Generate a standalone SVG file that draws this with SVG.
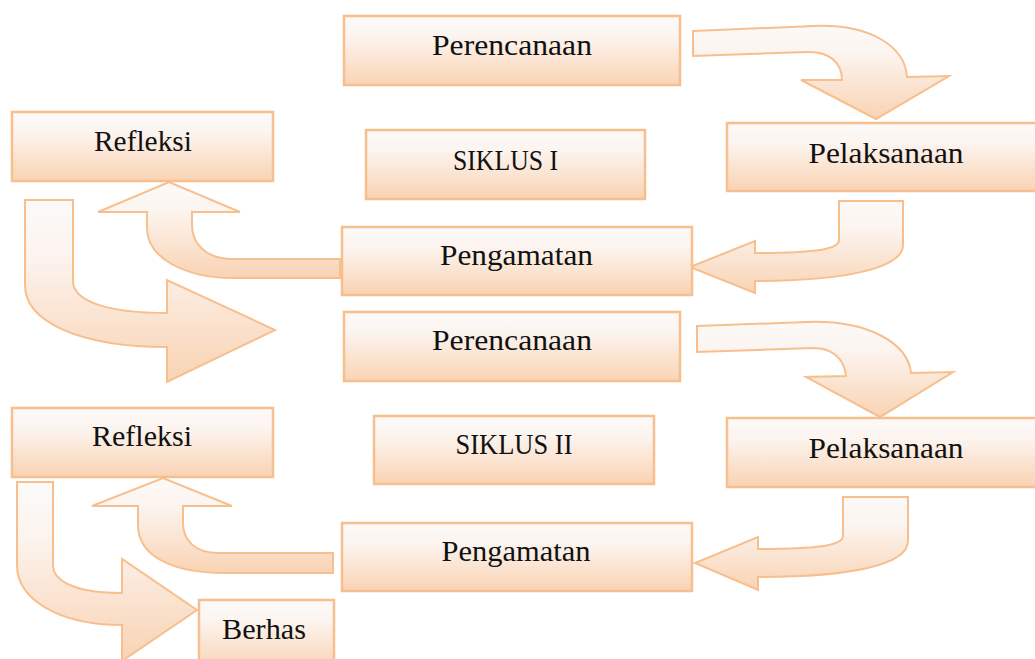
<svg xmlns="http://www.w3.org/2000/svg" width="1035" height="659" viewBox="0 0 1035 659">
<defs>
<linearGradient id="g" x1="0" y1="0" x2="0" y2="1">
<stop offset="0" stop-color="#fbfaf9"/>
<stop offset="0.3" stop-color="#fcf4ef"/>
<stop offset="1" stop-color="#f9d3b3"/>
</linearGradient>
</defs>
<style>
.box{fill:url(#g);stroke:#f8bf8e;stroke-width:2.5}
.arr{fill:url(#g);stroke:#f8bf8e;stroke-width:2;stroke-linejoin:miter}
.t{font-family:"Liberation Serif","DejaVu Serif",serif;font-size:29px;fill:#111;text-anchor:middle}
</style>
<rect width="1035" height="659" fill="#ffffff"/>
<g id="connectors">
<path class="arr" d="M 693,31 L 814,26 C 868,24 905,45 907,77 L 949,76 L 876,119 L 801,80 L 842,80 C 842,62 828,51 807,52 L 693,56 Z"/>
<path class="arr" d="M 839,201 L 903,201 L 903,245 C 903,268 845,281 755,281 L 755,293 L 690,267 L 755,241 L 755,253 C 812,253 839,250 839,240 Z"/>
<path class="arr" d="M 340,259 L 233,259 C 205,259 192,243 192,225 L 192,212 L 240,212 L 169,182 L 98,212 L 147,212 L 147,228 C 147,258 185,278 233,278 L 340,278 Z"/>
<path class="arr" d="M 25,200 L 73,200 L 73,281 C 73,302 110,313 167,313 L 167,280 L 275,330 L 167,382 L 167,347 C 80,347 25,322 25,285 Z"/>
<path class="arr" d="M 697,326 L 807,322 C 868,320 908,343 911,373 L 953,372 L 880,417 L 806,377 L 846,376 C 844,358 832,348 813,348 L 697,352 Z"/>
<path class="arr" d="M 843,497 L 908,497 L 908,541 C 908,565 850,577 758,577 L 758,590 L 695,563 L 758,537 L 758,549 C 815,549 843,546 843,536 Z"/>
<path class="arr" d="M 333,553 L 218,553 C 195,553 183,540 183,523 L 183,506 L 232,506 L 163,478 L 92,506 L 138,506 L 138,525 C 138,555 170,573 225,573 L 333,573 Z"/>
<path class="arr" d="M 17,482 L 53,482 L 53,565 C 53,583 80,593 122,593 L 122,559 L 197,610 L 122,661 L 122,625 C 60,625 17,600 17,565 Z"/>
</g>
<g id="perencanaan1"><rect class="box" x="344" y="16" width="336" height="69"/><text class="t" x="512" y="55" textLength="160" lengthAdjust="spacingAndGlyphs">Perencanaan</text></g>
<g id="refleksi1"><rect class="box" x="12" y="112" width="261" height="69"/><text class="t" x="143" y="151" textLength="98" lengthAdjust="spacingAndGlyphs">Refleksi</text></g>
<g id="siklus1"><rect class="box" x="366" y="130" width="279" height="69"/><text class="t" x="505.5" y="170" textLength="105" lengthAdjust="spacingAndGlyphs">SIKLUS I</text></g>
<g id="pelaksanaan1"><rect class="box" x="727" y="123" width="312" height="68"/><text class="t" x="886" y="162.5" textLength="155" lengthAdjust="spacingAndGlyphs">Pelaksanaan</text></g>
<g id="pengamatan1"><rect class="box" x="342" y="227" width="350" height="68"/><text class="t" x="516.5" y="265" textLength="153" lengthAdjust="spacingAndGlyphs">Pengamatan</text></g>
<g id="perencanaan2"><rect class="box" x="344" y="312" width="336" height="69"/><text class="t" x="512" y="350" textLength="160" lengthAdjust="spacingAndGlyphs">Perencanaan</text></g>
<g id="refleksi2"><rect class="box" x="12" y="408" width="261" height="69"/><text class="t" x="142" y="446" textLength="100" lengthAdjust="spacingAndGlyphs">Refleksi</text></g>
<g id="siklus2"><rect class="box" x="374" y="416" width="280" height="68"/><text class="t" x="514" y="453.5" textLength="117" lengthAdjust="spacingAndGlyphs">SIKLUS II</text></g>
<g id="pelaksanaan2"><rect class="box" x="727" y="418" width="312" height="69"/><text class="t" x="886" y="457.5" textLength="155" lengthAdjust="spacingAndGlyphs">Pelaksanaan</text></g>
<g id="pengamatan2"><rect class="box" x="342" y="523" width="350" height="68"/><text class="t" x="516" y="561" textLength="149" lengthAdjust="spacingAndGlyphs">Pengamatan</text></g>
<g id="berhas"><rect class="box" x="199" y="600" width="135" height="70"/><text class="t" x="264" y="638.5" textLength="84" lengthAdjust="spacingAndGlyphs">Berhas</text></g>
</svg>
